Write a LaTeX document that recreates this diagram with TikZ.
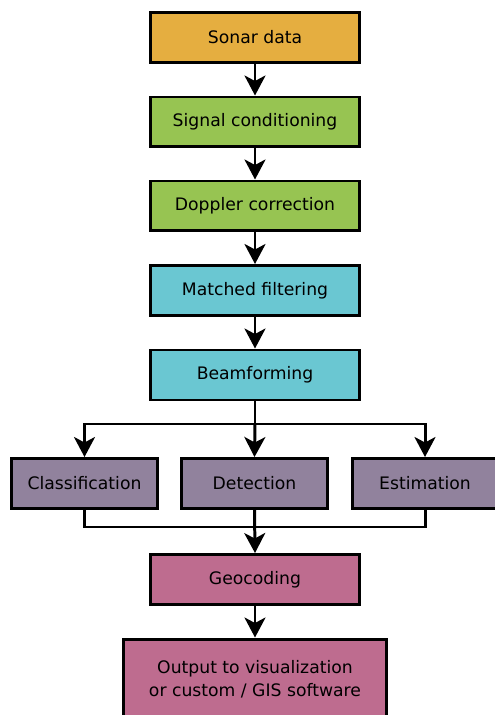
\documentclass[tikz,border=0pt]{standalone}
\usepackage{fontspec}
\setmainfont{DejaVu Sans}
\usetikzlibrary{arrows.meta,positioning}

\definecolor{inputorange}{RGB}{229,174,64}
\definecolor{prepgreen}{RGB}{151,196,82}
\definecolor{procteal}{RGB}{106,199,210}
\definecolor{analysispurple}{RGB}{145,130,157}
\definecolor{outputpink}{RGB}{190,108,143}

\tikzset{
	stage/.style={draw,line width=1.7pt,inner sep=0pt,align=center,
				minimum width=4.2cm,minimum height=1cm,
				font=\fontsize{9.8}{13}\selectfont},
	smallstage/.style={stage,minimum width=2.92cm,fill=analysispurple},
	link/.style={line width=1.7pt},
	flow/.style={link,-{Stealth[length=0.4cm,width=0.42cm,inset=0.11cm]}}
}

\begin{document}
\begin{tikzpicture}[x=0.02cm,y=-0.02cm]

	\useasboundingbox (0,0) rectangle (494,715);

	\node[stage,fill=inputorange] (sonar) at (255,37.5) {Sonar data};
	\node[stage,fill=prepgreen] (cond) at (255,122) {Signal conditioning};
	\node[stage,fill=prepgreen] (doppler) at (255,206) {Doppler correction};
	\node[stage,fill=procteal] (matched) at (255,290.5) {Matched filtering};
	\node[stage,fill=procteal] (beam) at (255,375) {Beamforming};

	\node[smallstage] (classif) at (84.5,483.5) {Classification};
	\node[smallstage] (detect) at (254.5,483.5) {Detection};
	\node[smallstage] (estim) at (425,483.5) {Estimation};

	\node[stage,fill=outputpink] (geo) at (255,579.5) {Geocoding};
	\node[stage,fill=outputpink,minimum width=5.28cm,minimum height=1.6cm]
		(output) at (255,679) {Output to visualization\\or custom / GIS software};

	\coordinate (split) at (255,424);
	\coordinate (join) at (255,527);

	% main chain
	\draw[flow] (sonar) -- (cond);
	\draw[flow] (cond) -- (doppler);
	\draw[flow] (doppler) -- (matched);
	\draw[flow] (matched) -- (beam);

	% fan out
	\draw[link] (beam.south) -- (split);
	\draw[flow] (split) -| (classif.north);
	\draw[flow] (split) -- (detect.north);
	\draw[flow] (split) -| (estim.north);

	% fan in
	\draw[link] (classif.south) |- (join) -| (estim.south);
	\draw[flow] (detect.south) -- (geo.north);

	\draw[flow] (geo) -- (output);

\end{tikzpicture}
\end{document}
